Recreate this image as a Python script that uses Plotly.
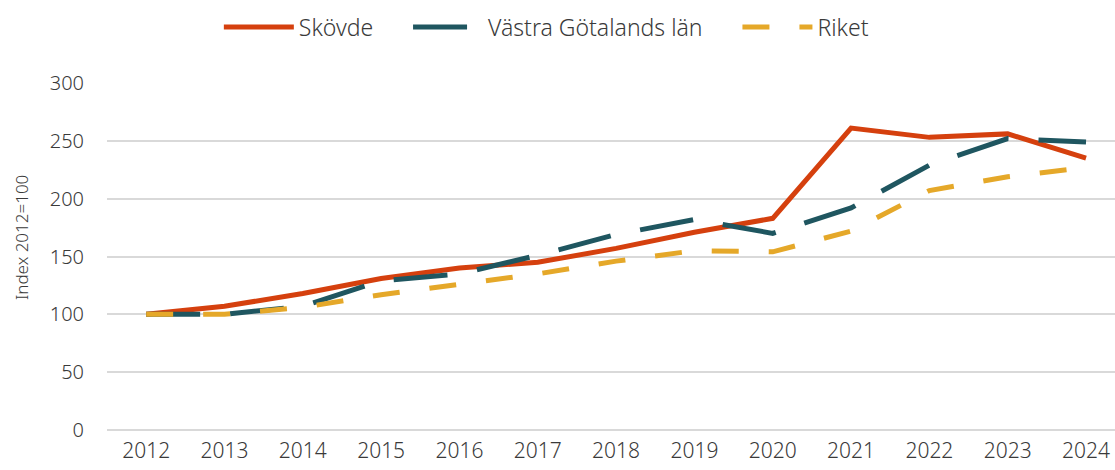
import plotly.graph_objects as go

years = list(range(2012, 2025))
skovde = [100, 107, 118, 131, 140, 145, 157, 171, 183, 261, 253, 256, 235]
vastra = [100, 100, 107, 129, 135, 151, 169, 182, 170, 192, 229, 252, 249]
riket = [100, 100, 106, 117, 126, 135, 146, 155, 154, 172, 207, 219, 227]
y_ticks = [0, 50, 100, 150, 200, 250, 300]

FONT = "Noto Sans"
TXT = "#3a3a3a"
SP = "\u00a0" * 5

fig = go.Figure()
fig.add_trace(go.Scatter(x=years, y=skovde, name="Skövde" + SP, mode="lines",
                         line=dict(color="#D5400E", width=5)))
fig.add_trace(go.Scatter(x=years, y=vastra, name="Västra Götalands län" + SP, mode="lines",
                         line=dict(color="#1F5660", width=5, dash="54px,30px")))
fig.add_trace(go.Scatter(x=years, y=riket, name="Riket", mode="lines",
                         line=dict(color="#E5A829", width=5, dash="27px,30px")))

fig.update_layout(
    width=1115, height=470,
    margin=dict(l=107, r=0, t=83, b=40, autoexpand=False),
    paper_bgcolor="white", plot_bgcolor="white",
    font=dict(family=FONT, size=20, color=TXT, weight=300),
    showlegend=True,
    legend=dict(orientation="h", xref="container", yref="container",
                x=0.49, y=1 - 27 / 470, xanchor="center", yanchor="middle",
                font=dict(size=23, color=TXT), itemwidth=70, traceorder="normal"),
    xaxis=dict(range=[2011.5, 2024.37], tickmode="array", tickvals=years,
               ticktext=[str(y) for y in years], showgrid=False, zeroline=False,
               showline=False, ticks="", ticklabelstandoff=6, automargin=False,
               tickfont=dict(size=21, color=TXT)),
    yaxis=dict(range=[0, 300], tickmode="array", tickvals=y_ticks,
               showgrid=True, gridcolor="#D9D9D9", gridwidth=2,
               zeroline=True, zerolinecolor="#D9D9D9", zerolinewidth=2,
               showline=False, ticks="", ticklabelstandoff=22, automargin=False,
               tickfont=dict(size=20, color=TXT)),
    annotations=[dict(text="Index 2012=100", xref="paper", yref="paper",
                      x=(22 - 107) / 1008, y=(430 - 238) / 347,
                      xanchor="center", yanchor="middle", textangle=-90,
                      showarrow=False, font=dict(size=17, color=TXT))],
)

fig.write_html("out.html", config={"displayModeBar": False},
               post_script="document.body.style.margin='0';document.body.style.overflow='hidden';")
